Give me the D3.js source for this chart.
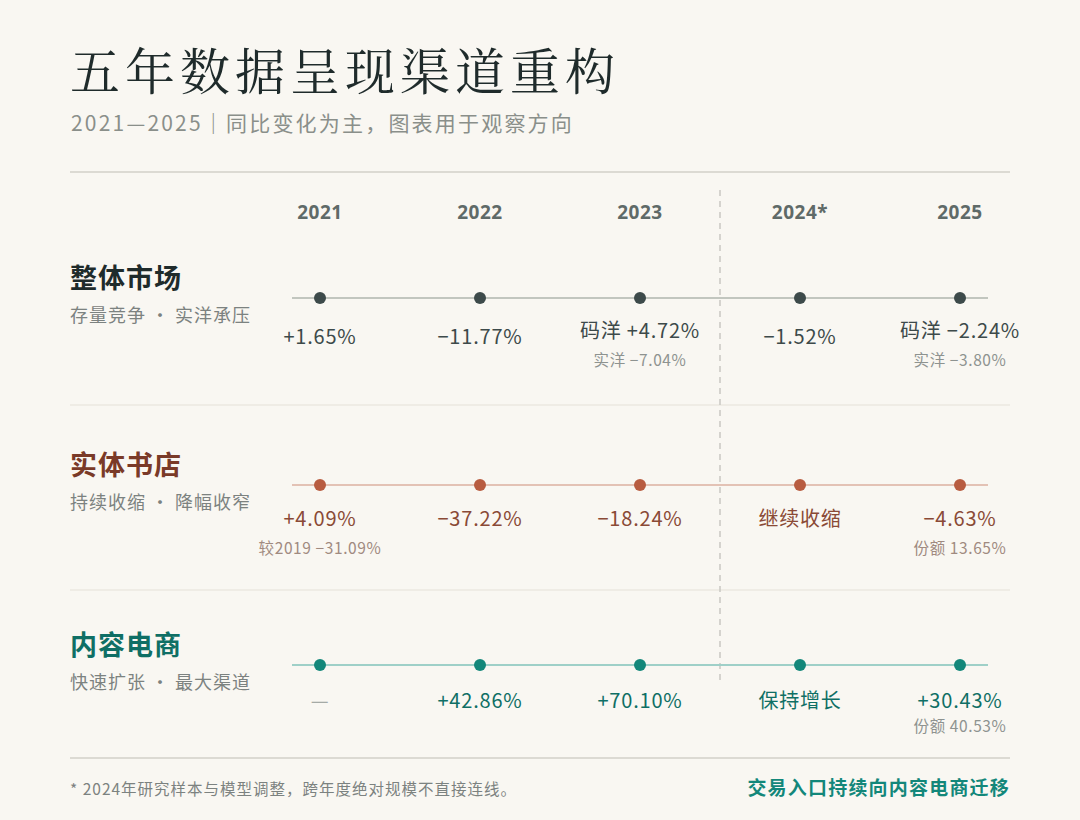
<!DOCTYPE html>
<html><head><meta charset="utf-8">
<script src="https://cdn.jsdelivr.net/npm/d3@7"></script>
<style>
body{margin:0;background:#f9f7f2;}
svg{display:block;font-family:"Noto Sans CJK SC","Noto Sans",sans-serif;}
</style></head><body>
<svg id="c" width="1080" height="820"></svg>
<script>
const years = ['2021', '2022', '2023', '2024*', '2025'];
const rowNames = ['整体市场', '实体书店', '内容电商'];
const rowSubs = ['存量竞争 · 实洋承压', '持续收缩 · 降幅收窄', '快速扩张 · 最大渠道'];
const rowColors = ['#3d4a4a', '#b85c40', '#13877a'];
const titleColors = ['#1f2b2b', '#7a3a28', '#0f6f65'];
const textColors = ['#3d4a4a', '#8a4a36', '#0f6f65'];
const lineColors = ['#c2c6bf', '#e3c2b5', '#9fd0c8'];
// main label per cell, and optional secondary
const mainLabels = [
  ['+1.65%', '−11.77%', '码洋 +4.72%', '−1.52%', '码洋 −2.24%'],
  ['+4.09%', '−37.22%', '−18.24%', '继续收缩', '−4.63%'],
  ['—', '+42.86%', '+70.10%', '保持增长', '+30.43%'],
];
const subLabels = [
  [null, null, '实洋 −7.04%', null, '实洋 −3.80%'],
  ['较2019 −31.09%', null, null, null, '份额 13.65%'],
  [null, null, null, null, '份额 40.53%'],
];

const svg = d3.select('#c');
const x = d3.scalePoint().domain(years).range([320, 960]);
const rowY = d3.scaleOrdinal().domain(rowNames).range([298, 485, 665]);

svg.append('text').attr('x', 70).attr('y', 90).attr('font-size', 50).attr('font-weight', 400)
  .attr('fill', '#1f2b2b').attr('font-family', '"Noto Serif CJK SC","Noto Sans CJK SC",serif')
  .attr('letter-spacing', 5).text('五年数据呈现渠道重构');
svg.append('text').attr('x', 71).attr('y', 131).attr('font-size', 21).attr('fill', '#8a8f8a')
  .attr('letter-spacing', 2.2).text('2021—2025｜同比变化为主，图表用于观察方向');

[172, 405, 590, 758].forEach((y, i) => {
  svg.append('line').attr('x1', 70).attr('x2', 1010).attr('y1', y).attr('y2', y)
    .attr('stroke', i === 0 || i === 3 ? '#dcdad3' : '#ebe8e1').attr('stroke-width', i === 0 || i === 3 ? 2 : 1.5);
});

svg.append('line').attr('x1', 720).attr('x2', 720).attr('y1', 190).attr('y2', 682)
  .attr('stroke', '#c9c8c2').attr('stroke-width', 1.5).attr('stroke-dasharray', '6,5');

svg.selectAll('.yr').data(years).join('text').attr('x', d => x(d)).attr('y', 219)
  .attr('text-anchor', 'middle').attr('font-size', 19).attr('font-weight', 700)
  .attr('fill', '#5f6a68').attr('letter-spacing', 0.5).attr('font-family', '"Noto Sans",sans-serif').text(d => d);

rowNames.forEach((name, r) => {
  const y = rowY(name);
  const g = svg.append('g');
  g.append('text').attr('x', 70).attr('y', y - 10).attr('font-size', 27).attr('font-weight', 700)
    .attr('fill', titleColors[r]).attr('letter-spacing', 1).text(name);
  g.append('text').attr('x', 70).attr('y', y + 24).attr('font-size', 18)
    .attr('fill', '#7c8280').attr('letter-spacing', 1).text(rowSubs[r]);
  g.append('line').attr('x1', 292).attr('x2', 988).attr('y1', y).attr('y2', y)
    .attr('stroke', lineColors[r]).attr('stroke-width', 2);
  g.selectAll('circle').data(years).join('circle').attr('cx', d => x(d)).attr('cy', y)
    .attr('r', 6).attr('fill', rowColors[r]);
  years.forEach((yr, i) => {
    const sub = subLabels[r][i];
    const off = r === 0 ? (sub ? 40 : 46) : (r === 1 ? 41 : 43);
    g.append('text').attr('x', x(yr)).attr('y', y + off).attr('text-anchor', 'middle')
      .attr('font-size', 20).attr('letter-spacing', 0.8)
      .attr('fill', mainLabels[r][i] === '—' ? '#a5aaa6' : textColors[r])
      .text(mainLabels[r][i]);
    if (sub) {
      g.append('text').attr('x', x(yr)).attr('y', y + off + (r === 2 ? 24 : 28))
        .attr('text-anchor', 'middle').attr('font-size', 15.5).attr('letter-spacing', 0.6)
        .attr('fill', r === 1 ? '#a08a80' : '#8e9390').text(sub);
    }
  });
});

svg.append('text').attr('x', 70).attr('y', 795).attr('font-size', 15.5).attr('fill', '#7c8280')
  .attr('letter-spacing', 1).text('* 2024年研究样本与模型调整，跨年度绝对规模不直接连线。');
svg.append('text').attr('x', 1010).attr('y', 795).attr('text-anchor', 'end').attr('font-size', 19)
  .attr('font-weight', 700).attr('letter-spacing', 1.2).attr('fill', '#13877a').text('交易入口持续向内容电商迁移');
</script></body></html>
